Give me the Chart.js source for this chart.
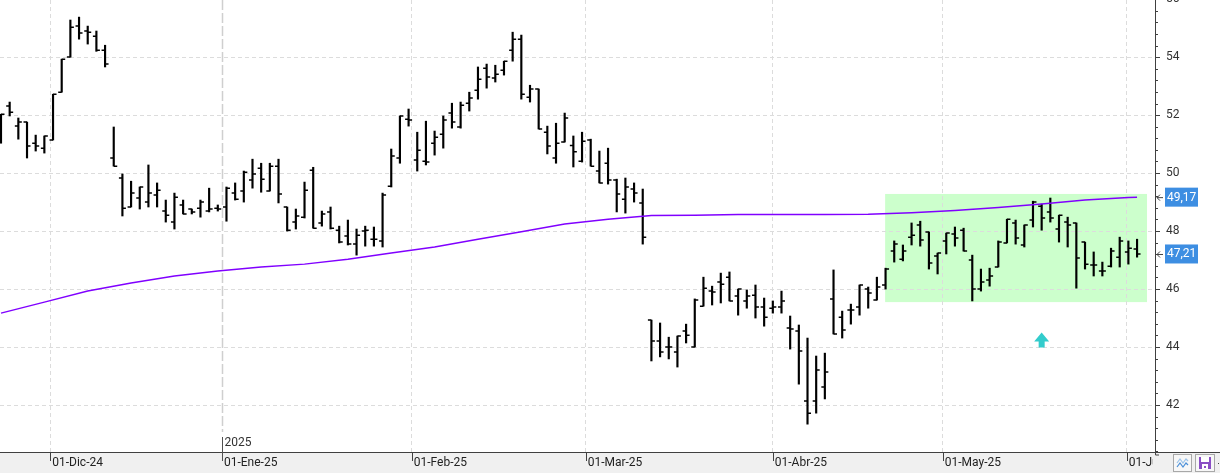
<!DOCTYPE html>
<html>
<head>
<meta charset="utf-8">
<script src="https://cdn.jsdelivr.net/npm/chart.js@4.4.1/dist/chart.umd.min.js"></script>
<style>
    html, body { margin: 0; padding: 0; background: #ffffff; }
    #contenedor { width: 1220px; height: 473px; }
</style>
</head>
<body>
<div id="contenedor"><canvas id="chartCotizacion" width="1220" height="473"></canvas></div>
<script>
// sesiones diarias (indice 0 = primera barra visible)
const apertura = [51.40, 52.31, 51.62, 51.76, 51.03, 50.86, 51.14, 52.79, 54.00, 55.07,
    54.90, 54.72, 54.24, 50.52, 49.83, 48.83, 49.14, 49.00, 49.24, 48.69,
    48.31, 48.90, 48.76, 48.79, 48.69, 48.79, 48.83, 49.31, 49.38, 49.76,
    50.17, 49.38, 50.24, 48.83, 48.31, 48.48, 50.10, 48.28, 48.66, 48.03,
    47.83, 47.55, 48.00, 47.72, 47.66, 49.55, 50.52, 51.86, 50.45, 50.41,
    51.03, 51.34, 52.07, 51.59, 52.41, 52.86, 53.62, 53.28, 53.55, 54.24,
    54.62, 52.62, 52.90, 51.41, 50.52, 51.07, 50.95, 50.41, 51.14, 50.07,
    50.34, 49.76, 49.10, 49.45, 48.97, 44.93, 44.21, 44.00, 43.83, 44.55,
    44.00, 45.41, 45.93, 46.24, 46.41, 45.76, 45.59, 45.79, 45.38, 45.34,
    45.38, 44.66, 44.55, 42.14, 42.14, 42.62, 45.66, 45.03, 45.28, 45.38,
    46.00, 45.62, 46.14, 47.31, 47.03, 47.79, 48.21, 47.97, 47.14, 47.66,
    47.90, 48.03, 47.00, 46.00, 46.31, 46.76, 47.59, 48.28, 47.52, 48.38,
    48.86, 48.66, 48.07, 48.31, 48.28, 47.62, 46.83, 46.62, 46.79, 47.10,
    47.28, 47.38];
const maximo = [52.03, 52.45, 51.90, 51.76, 51.31, 51.28, 52.72, 53.93, 55.28, 55.38,
    55.07, 54.90, 54.41, 51.59, 49.97, 49.72, 49.52, 50.28, 49.66, 49.07,
    49.31, 49.07, 48.76, 49.07, 49.48, 48.90, 49.52, 49.66, 50.07, 50.48,
    50.34, 50.34, 50.48, 48.83, 48.76, 49.69, 50.20, 48.69, 48.83, 48.17,
    48.38, 48.07, 48.17, 48.14, 49.31, 50.83, 51.97, 52.21, 51.41, 51.79,
    51.45, 51.97, 52.41, 52.45, 52.79, 53.66, 53.76, 53.72, 53.86, 54.86,
    54.76, 53.03, 52.90, 51.62, 51.72, 52.07, 51.28, 51.41, 51.17, 50.76,
    50.86, 49.79, 49.83, 49.66, 49.45, 44.93, 44.83, 44.34, 44.38, 44.79,
    45.66, 46.41, 46.10, 46.55, 46.59, 46.00, 45.97, 46.14, 45.69, 45.59,
    45.93, 45.07, 44.76, 44.31, 43.69, 43.79, 46.66, 45.24, 45.48, 46.14,
    46.07, 46.41, 46.72, 47.66, 47.52, 48.28, 48.34, 47.97, 47.24, 47.93,
    48.14, 48.10, 47.17, 46.69, 46.72, 47.66, 48.41, 48.38, 48.21, 49.03,
    48.93, 49.14, 48.55, 48.48, 48.28, 47.62, 47.28, 46.93, 47.41, 47.79,
    47.66, 47.72];
const minimo = [51.03, 51.97, 51.17, 50.52, 50.76, 50.69, 51.14, 52.79, 54.00, 54.62,
    54.45, 54.20, 53.66, 50.24, 48.52, 48.83, 48.76, 48.83, 48.83, 48.31,
    48.07, 48.59, 48.59, 48.48, 48.66, 48.69, 48.34, 49.07, 49.00, 49.48,
    49.34, 49.38, 48.97, 48.00, 48.07, 48.45, 48.10, 48.17, 48.07, 47.59,
    47.52, 47.17, 47.48, 47.48, 47.45, 49.52, 50.34, 51.62, 50.07, 50.28,
    50.62, 50.86, 51.55, 51.55, 52.14, 52.55, 52.93, 53.14, 53.38, 53.86,
    52.55, 52.45, 51.52, 50.66, 50.34, 51.07, 50.21, 50.38, 50.24, 49.66,
    49.62, 48.66, 48.62, 49.00, 47.55, 43.52, 43.66, 43.59, 43.31, 44.14,
    44.00, 45.41, 45.45, 45.52, 45.59, 45.10, 45.34, 45.00, 44.72, 45.17,
    45.17, 43.93, 42.72, 41.34, 41.72, 42.21, 44.45, 44.31, 44.79, 45.10,
    45.34, 45.62, 46.00, 46.93, 46.97, 47.52, 47.48, 46.69, 46.52, 47.21,
    47.48, 47.31, 45.59, 45.93, 46.10, 46.76, 47.59, 47.55, 47.45, 48.14,
    48.03, 48.31, 47.62, 47.45, 46.03, 46.69, 46.45, 46.45, 46.76, 46.76,
    46.86, 47.10];
const cierre = [52.03, 52.10, 51.76, 50.93, 50.93, 51.28, 52.72, 53.93, 55.03, 54.83,
    54.86, 54.24, 53.76, 50.24, 48.79, 49.31, 49.52, 49.31, 49.41, 48.55,
    49.17, 48.59, 48.66, 49.00, 48.76, 48.76, 49.48, 49.10, 50.03, 49.97,
    49.79, 50.24, 49.28, 48.03, 48.52, 49.41, 48.10, 48.59, 48.10, 47.62,
    47.55, 47.86, 48.03, 47.72, 49.24, 50.59, 51.97, 51.83, 50.79, 50.38,
    51.24, 51.83, 51.76, 52.34, 52.59, 53.24, 53.31, 53.41, 53.86, 54.62,
    52.72, 52.90, 51.52, 50.93, 51.03, 51.90, 50.74, 51.10, 50.24, 49.66,
    49.76, 49.28, 49.52, 49.31, 47.79, 44.21, 43.83, 44.00, 44.38, 44.41,
    45.62, 46.03, 45.90, 46.17, 45.59, 46.00, 45.76, 45.38, 45.03, 45.38,
    45.59, 44.62, 43.86, 41.72, 43.21, 43.14, 44.45, 44.59, 45.28, 46.14,
    45.86, 46.07, 46.69, 47.55, 47.31, 47.86, 47.69, 46.90, 47.24, 47.93,
    47.76, 47.31, 46.00, 46.24, 46.45, 47.62, 48.41, 47.76, 48.21, 49.00,
    48.45, 48.45, 48.55, 48.21, 47.07, 46.86, 46.83, 46.62, 47.31, 47.66,
    47.41, 47.21];

const mediaIdx = [0, 5, 10, 15, 20, 25, 30, 35, 40, 45, 50, 55, 60, 65, 70, 75, 80, 85, 90, 95, 100, 105, 110, 115, 120, 125, 130, 131];
const mediaVal = [45.17, 45.55, 45.93, 46.21, 46.45, 46.62, 46.76, 46.86, 47.03, 47.24, 47.45, 47.72, 47.98, 48.24, 48.41, 48.54,
    48.55, 48.57, 48.57, 48.57, 48.58, 48.63, 48.71, 48.81, 48.93, 49.07, 49.16, 49.17];

// eje de fechas
const mesPos = [5.68, 25.48, 47.36, 67.42, 89, 108.6, 129.8];
const mesTxt = ['01-Dic-24', '01-Ene-25', '01-Feb-25', '01-Mar-25', '01-Abr-25', '01-May-25', '01-Jun-25'];
const anioPos = 25.48;
const anioTxt = '2025';

// eje de precios
const precioTicks = [42, 44, 46, 48, 50, 52, 54, 56];
const precioMin = 40.38;
const precioMax = 55.97;

// rectangulo verde y flecha
const cajaX = [101.95, 132.15];
const cajaY = [45.55, 49.28];
const flechaX = 120;
const flechaY = 44.5;

const FUENTE = 'Roboto, "Noto Sans", sans-serif';

function formatoPrecio(v) {
    return v.toFixed(2).replace('.', ',');
}

const pluginExtras = {
    id: 'extras',
    beforeDraw: function (chart) {
        const ctx = chart.ctx;
        const x = chart.scales.x;
        const y = chart.scales.y;
        ctx.save();
        ctx.fillStyle = '#f0f0f0';
        ctx.fillRect(0, x.top, chart.width, chart.height - x.top);
        const x1 = x.getPixelForValue(cajaX[0]);
        const x2 = x.getPixelForValue(cajaX[1]);
        const y1 = y.getPixelForValue(cajaY[1]);
        const y2 = y.getPixelForValue(cajaY[0]);
        ctx.fillStyle = '#ccffcc';
        ctx.fillRect(x1, y1, x2 - x1, y2 - y1);
        ctx.restore();
    },
    afterDatasetsDraw: function (chart) {
        const ctx = chart.ctx;
        const x = chart.scales.x;
        const y = chart.scales.y;
        const area = chart.chartArea;
        ctx.save();
        ctx.beginPath();
        ctx.rect(area.left, area.top, area.right - area.left, area.bottom - area.top);
        ctx.clip();
        // apertura a la izquierda, cierre a la derecha
        ctx.strokeStyle = '#000000';
        ctx.lineWidth = 1.5;
        ctx.beginPath();
        for (let i = 0; i < cierre.length; i++) {
            const px = x.getPixelForValue(i);
            const yo = y.getPixelForValue(apertura[i]);
            const yc = y.getPixelForValue(cierre[i]);
            ctx.moveTo(px - 3.5, yo);
            ctx.lineTo(px, yo);
            ctx.moveTo(px, yc);
            ctx.lineTo(px + 3.5, yc);
        }
        ctx.stroke();

        // flecha de compra
        const fx = x.getPixelForValue(flechaX);
        const fy = y.getPixelForValue(flechaY);
        ctx.fillStyle = '#33cccc';
        ctx.beginPath();
        ctx.moveTo(fx, fy);
        ctx.lineTo(fx + 7.5, fy + 9);
        ctx.lineTo(fx + 3, fy + 9);
        ctx.lineTo(fx + 3, fy + 15);
        ctx.lineTo(fx - 3, fy + 15);
        ctx.lineTo(fx - 3, fy + 9);
        ctx.lineTo(fx - 7.5, fy + 9);
        ctx.closePath();
        ctx.fill();
        ctx.restore();
    },
    afterDraw: function (chart) {
        const ctx = chart.ctx;
        const x = chart.scales.x;
        const y = chart.scales.y;
        const eje = y.left;
        ctx.save();

        // corte de la ultima fecha
        ctx.fillStyle = '#f0f0f0';
        ctx.fillRect(eje - 2, x.top + 1, chart.width - eje + 2, chart.height - x.top);
        ctx.strokeStyle = '#404040';
        ctx.lineWidth = 1;
        ctx.beginPath();
        ctx.moveTo(eje, x.top + 0.5);
        ctx.lineTo(chart.width, x.top + 0.5);
        ctx.moveTo(eje + 0.5, x.top);
        ctx.lineTo(eje + 0.5, x.top + 3);
        ctx.lineTo(eje + 4, x.top + 3);
        ctx.stroke();

        // marcas del eje de precios
        ctx.beginPath();
        for (let k = 0; k <= 39; k++) {
            const v = 40.4 + k * 0.4;
            const py = Math.round(y.getPixelForValue(v)) + 0.5;
            const mayor = Math.abs(v / 2 - Math.round(v / 2)) < 1e-6;
            ctx.moveTo(eje, py);
            ctx.lineTo(eje + (mayor ? 5 : 3), py);
        }
        ctx.stroke();

        // marcas de meses
        ctx.beginPath();
        mesPos.forEach(function (m) {
            const px = Math.round(x.getPixelForValue(m)) + 0.5;
            ctx.moveTo(px, x.top);
            ctx.lineTo(px, x.top + 9);
        });
        ctx.stroke();

        // separador de anio
        const ax = Math.round(x.getPixelForValue(anioPos)) + 0.5;
        ctx.strokeStyle = '#cfcfcf';
        ctx.lineWidth = 1.5;
        ctx.setLineDash([10, 3]);
        ctx.beginPath();
        ctx.moveTo(ax, 0);
        ctx.lineTo(ax, x.top - 20);
        ctx.stroke();
        ctx.setLineDash([]);
        ctx.strokeStyle = '#505050';
        ctx.lineWidth = 1;
        ctx.beginPath();
        ctx.moveTo(ax, x.top - 15);
        ctx.lineTo(ax, x.top + 9);
        ctx.stroke();
        ctx.fillStyle = '#333333';
        ctx.font = '12px ' + FUENTE;
        ctx.textBaseline = 'middle';
        ctx.textAlign = 'left';
        ctx.fillText(anioTxt, ax + 2, x.top - 9);

        // etiquetas de ultimo valor
        const ultimos = [mediaVal[mediaVal.length - 1], cierre[cierre.length - 1]];
        ultimos.forEach(function (v) {
            const py = y.getPixelForValue(v);
            ctx.fillStyle = '#3d8ee2';
            ctx.fillRect(eje + 10, py - 9.5, 33, 19);
            ctx.fillStyle = '#ffffff';
            ctx.fillText(formatoPrecio(v), eje + 12, py + 0.5);
            ctx.strokeStyle = '#404040';
            ctx.beginPath();
            ctx.moveTo(eje + 2, py + 0.5);
            ctx.lineTo(eje + 8, py + 0.5);
            ctx.moveTo(eje + 5, py - 2.5);
            ctx.lineTo(eje + 2, py + 0.5);
            ctx.lineTo(eje + 5, py + 3.5);
            ctx.stroke();
        });

        // botones de la barra inferior
        ctx.fillStyle = '#f7f7f7';
        ctx.strokeStyle = '#a8a8a8';
        ctx.fillRect(1173.5, 454.5, 18, 17);
        ctx.strokeRect(1173.5, 454.5, 18, 17);
        ctx.fillRect(1195.5, 454.5, 19, 17);
        ctx.strokeRect(1195.5, 454.5, 19, 17);
        ctx.lineWidth = 1.2;
        ctx.strokeStyle = '#9cc3ea';
        ctx.beginPath();
        ctx.moveTo(1177, 463); ctx.lineTo(1180, 459); ctx.lineTo(1183, 463); ctx.lineTo(1186, 459); ctx.lineTo(1188, 461);
        ctx.stroke();
        ctx.strokeStyle = '#4a8fd8';
        ctx.beginPath();
        ctx.moveTo(1177, 467); ctx.lineTo(1180, 463); ctx.lineTo(1183, 467); ctx.lineTo(1186, 463); ctx.lineTo(1188, 465);
        ctx.stroke();
        ctx.fillStyle = '#8a4ec5';
        ctx.fillRect(1199, 457, 12, 12);
        ctx.fillStyle = '#ffffff';
        ctx.fillRect(1201, 457, 8, 5);
        ctx.fillRect(1202, 464, 6, 5);
        ctx.fillStyle = '#8a4ec5';
        ctx.fillRect(1204, 466, 2, 2);
        ctx.fillStyle = '#404040';
        ctx.fillRect(1218, 463, 1, 1);
        ctx.restore();
    }
};

function dibujarGrafico() {
    let _rangos = cierre.map(function (c, i) {
        return { x: i, y: [minimo[i], maximo[i]] };
    });
    let _media = mediaIdx.map(function (idx, k) {
        return { x: idx, y: mediaVal[k] };
    });

    Chart.defaults.font.family = FUENTE;
    Chart.defaults.font.size = 12;
    Chart.defaults.color = '#333333';

    new Chart(document.getElementById('chartCotizacion').getContext('2d'),
        {
            type: 'bar',
            data: {
                datasets: [{
                    type: 'line',
                    label: 'Media',
                    data: _media,
                    borderColor: '#8000ff',
                    borderWidth: 1.5,
                    pointRadius: 0,
                    tension: 0,
                    order: 0
                },
                {
                    type: 'bar',
                    label: 'Rango',
                    data: _rangos,
                    backgroundColor: '#000000',
                    borderWidth: 0,
                    barThickness: 1.5,
                    order: 1
                }]
            },
            options: {
                responsive: false,
                animation: false,
                layout: { padding: 0 },
                plugins: {
                    legend: { display: false },
                    tooltip: { enabled: false }
                },
                scales: {
                    x: {
                        type: 'linear',
                        min: -0.115,
                        max: 133.07,
                        offset: false,
                        afterBuildTicks: function (scale) {
                            scale.ticks = mesPos.map(function (v) { return { value: v }; });
                        },
                        afterFit: function (scale) {
                            scale.height = 21;
                            scale.paddingLeft = 0;
                            scale.paddingRight = 0;
                        },
                        ticks: {
                            autoSkip: false,
                            maxRotation: 0,
                            align: 'start',
                            labelOffset: 2,
                            padding: 4,
                            color: '#222222',
                            callback: function (value, index) {
                                return mesTxt[index];
                            }
                        },
                        grid: {
                            offset: false,
                            drawTicks: false,
                            color: function (c) {
                                return c.index === 1 ? 'rgba(0,0,0,0)' : '#dcdcdc';
                            }
                        },
                        border: { color: '#404040', width: 1, dash: [4, 3] }
                    },
                    y: {
                        position: 'right',
                        min: precioMin,
                        max: precioMax,
                        afterBuildTicks: function (scale) {
                            scale.ticks = precioTicks.map(function (v) { return { value: v }; });
                        },
                        afterFit: function (scale) {
                            scale.width = 65;
                            scale.paddingTop = 0;
                            scale.paddingBottom = 0;
                        },
                        ticks: {
                            padding: 11,
                            color: '#333333',
                            callback: function (value) {
                                return String(value);
                            }
                        },
                        grid: {
                            drawTicks: false,
                            color: '#dcdcdc'
                        },
                        border: { color: '#404040', width: 1, dash: [4, 3] }
                    }
                }
            },
            plugins: [pluginExtras]
        });
}

dibujarGrafico();
</script>
</body>
</html>
